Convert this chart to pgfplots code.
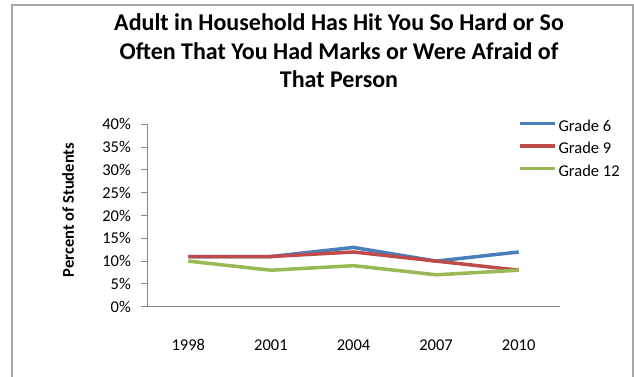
\documentclass[border=0pt]{standalone}
\usepackage{fontspec}
\setmainfont{Carlito}
\usepackage{pgfplots}
\pgfplotsset{compat=1.18}
\definecolor{gsix}{HTML}{4A7EBB}
\definecolor{gnine}{HTML}{BE4B48}
\definecolor{gtwelve}{HTML}{98B954}
\definecolor{framegray}{HTML}{A6A6A6}
\definecolor{axisgray}{HTML}{868686}
\newcommand{\lblfont}{\fontsize{16.5}{20}\selectfont}
\begin{document}
\begin{tikzpicture}[x=1pt,y=1pt]
\path[use as bounding box] (0,0) rectangle (634,377);
% chart frame (open at the bottom)
\draw[framegray, line width=1.5pt] (12,0) -- (12,372) -- (633,372) -- (633,0);
% title
\begin{scope}[every node/.style={font=\fontsize{24}{28}\selectfont\bfseries, anchor=base}]
\node at (339,346) {Adult in Household Has Hit You So Hard or So};
\node at (339,317) {Often That You Had Marks or Were Afraid of};
\node at (339,289) {That Person};
\end{scope}
\begin{axis}[
  at={(147pt,70.3pt)}, anchor=south west,
  scale only axis, width=413pt, height=182.4pt,
  xmin=-0.5, xmax=4.5, ymin=0, ymax=40,
  axis lines=left,
  axis line style={axisgray, line width=0.8pt, -},
  tick style={axisgray, line width=0.8pt},
  tick align=outside, major tick length=6pt,
  xtick={0,...,4}, xticklabels={1998,2001,2004,2007,2010},
  major x tick style={draw=none},
  extra x ticks={-0.5,0.5,1.5,2.5,3.5,4.5},
  extra x tick labels={},
  extra x tick style={major x tick style={axisgray, line width=0.8pt}},
  ytick={0,5,...,40},
  /pgf/number format/assume math mode=true,
  yticklabel={\pgfmathprintnumber{\tick}\%},
  ticklabel style={font=\lblfont, text=black},
  xticklabel style={inner sep=0pt, anchor=base, yshift=-38pt},
  yticklabel style={inner sep=0pt, anchor=east, xshift=-10pt},
  ylabel={Percent of Students},
  every axis y label/.style={at={(axis description cs:-0.191,0.53)}, rotate=90, anchor=center, font=\lblfont\bfseries},
  legend style={at={(axis description cs:0.898,1.022)}, anchor=north west,
    draw=none, fill=none, font=\lblfont, inner sep=0pt, row sep=8.5pt,
    nodes={inner sep=0pt, text height=11pt, text depth=3pt}},
  legend cell align=left,
  legend image code/.code={\draw[#1, line width=3.5pt] (0pt,4pt) -- (35pt,4pt);},
  every axis plot/.append style={line width=3.5pt, line join=round, mark=none},
  clip=false,
]
\addplot[gsix] coordinates {(0,11) (1,11) (2,13) (3,10) (4,12)};
\addlegendentry{\hspace{2pt}Grade 6}
\addplot[gnine] coordinates {(0,11) (1,11) (2,12) (3,10) (4,8)};
\addlegendentry{\hspace{2pt}Grade 9}
\addplot[gtwelve] coordinates {(0,10) (1,8) (2,9) (3,7) (4,8)};
\addlegendentry{\hspace{2pt}Grade 12}
\end{axis}
\end{tikzpicture}
\end{document}
